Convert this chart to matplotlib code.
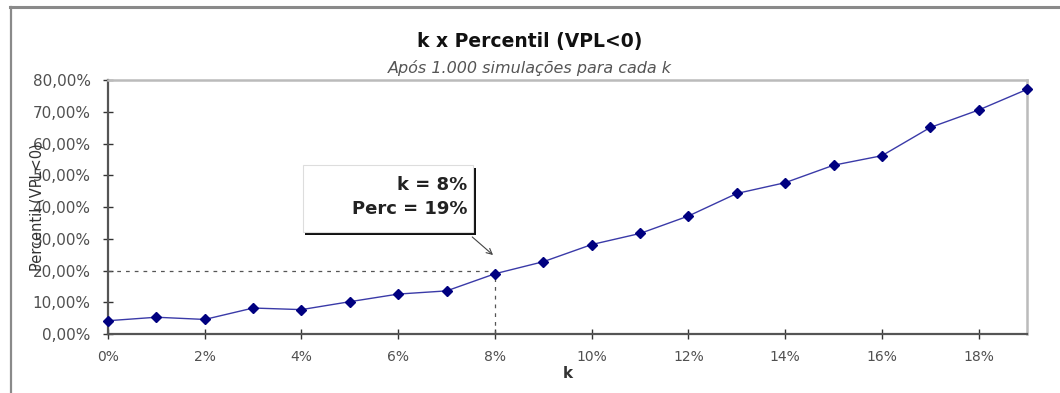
import matplotlib.pyplot as plt
from matplotlib.ticker import FuncFormatter, MultipleLocator
from matplotlib.lines import Line2D
from matplotlib.patches import Rectangle

plt.rcParams['font.family'] = ['DejaVu Sans']

# k (%) and percentile of VPL<0 (%)
k = [0, 1, 2, 3, 4, 5, 6, 7, 8, 9, 10, 11, 12, 13, 14, 15, 16, 17, 18, 19]
perc = [4.2, 5.3, 4.6, 8.2, 7.7, 10.2, 12.6, 13.6, 19.0, 22.8,
        28.2, 31.7, 37.2, 44.3, 47.7, 53.2, 56.2, 65.1, 70.6, 77.1]

k_sel = 8
perc_sel = 19
guide_y = 20

fig = plt.figure(figsize=(10.6, 3.93), dpi=100)

# outer chart frame (top and left only)
fig.add_artist(Line2D([0.0095, 1.0], [0.981, 0.981], color='#8a8a8a', lw=2.2,
                      transform=fig.transFigure))
fig.add_artist(Line2D([0.0105, 0.0105], [0.0, 0.981], color='#8a8a8a', lw=1.6,
                      transform=fig.transFigure))

ax = fig.add_axes([0.1019, 0.150, 0.8670, 0.646])
ax.plot(k, perc, color='#3a3aa8', lw=1.0, marker='D', markersize=5.5,
        markerfacecolor='#000080', markeredgecolor='#000080', zorder=3,
        clip_on=False)

# guide lines to the selected point
ax.plot([0, k_sel], [guide_y, guide_y], color='#555555', lw=0.9,
        ls=(0, (3, 4)), zorder=2)
ax.plot([k_sel, k_sel], [0, perc_sel], color='#555555', lw=0.9,
        ls=(0, (3, 4)), zorder=2)

ax.set_xlim(0, 19)
ax.set_ylim(0, 80)
ax.xaxis.set_major_locator(MultipleLocator(2))
ax.yaxis.set_major_locator(MultipleLocator(10))
ax.xaxis.set_major_formatter(FuncFormatter(lambda v, p: '%d%%' % v))
ax.yaxis.set_major_formatter(FuncFormatter(lambda v, p: ('%.2f%%' % v).replace('.', ',')))
ax.tick_params(direction='inout', length=7, width=1.0, color='#333333',
               labelcolor='#505050')
ax.tick_params(axis='x', pad=8, labelsize=10)
ax.tick_params(axis='y', pad=9, labelsize=11)

for s in ['left', 'bottom']:
    ax.spines[s].set_color('#555555')
    ax.spines[s].set_linewidth(1.6)
for s in ['top', 'right']:
    ax.spines[s].set_color('#bbbbbb')
    ax.spines[s].set_linewidth(1.8)

ax.set_xlabel('k', fontsize=11, color='#333333', fontweight='bold')
ax.xaxis.set_label_coords(0.5, -0.125)
ax.set_ylabel('Percentil (VPL<0)', fontsize=10.5, color='#333333')
ax.yaxis.set_label_coords(-0.0696, 0.5)

fig.text(0.5, 0.895, 'k x Percentil (VPL<0)', ha='center', va='center',
         fontsize=13.5, fontweight='bold', color='#111111')
fig.text(0.5, 0.826, 'Após 1.000 simulações para cada k', ha='center',
         va='center', fontsize=11.5, style='italic', color='#555555')

# callout box with drop shadow
bx0, bx1, by0, by1 = 4.03, 7.55, 32.1, 53.2
ax.add_patch(Rectangle((bx0 + 0.05, by0 - 1.0), bx1 - bx0, by1 - by0,
                       fc='#111111', ec='none', zorder=5))
ax.add_patch(Rectangle((bx0, by0), bx1 - bx0, by1 - by0,
                       fc='white', ec='#dddddd', lw=0.8, zorder=6))
ax.text(7.43, 47.0, 'k = %d%%' % k_sel, ha='right', va='center',
        fontsize=13, fontweight='bold', color='#222222', zorder=7)
ax.text(7.43, 39.4, 'Perc = %d%%' % perc_sel, ha='right', va='center',
        fontsize=13, fontweight='bold', color='#222222', zorder=7)
ax.annotate('', xy=(7.96, 24.9), xytext=(7.53, 30.6),
            arrowprops=dict(arrowstyle='->', color='#444444', lw=0.8,
                            shrinkA=0, shrinkB=0), zorder=7)

fig.savefig('out.png', dpi=100)
